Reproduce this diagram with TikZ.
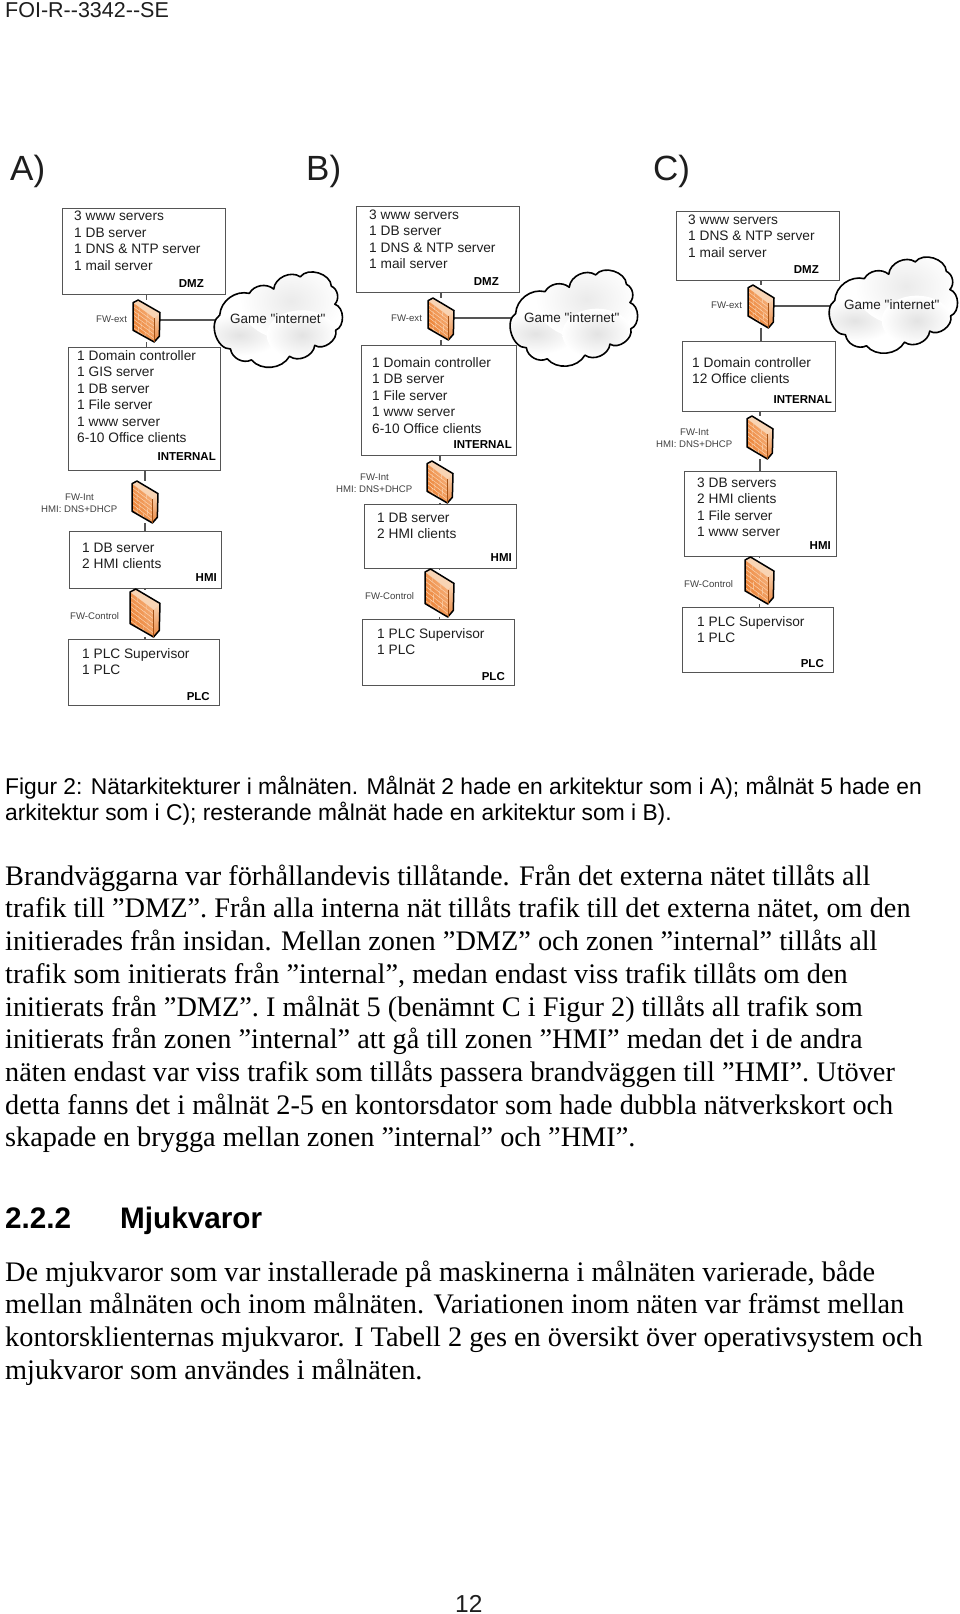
\documentclass[tikz,border=0pt]{standalone}
\usepackage{fontspec}
\usetikzlibrary{backgrounds,shadings}
\setmainfont{Liberation Serif}
\newfontfamily\arial{Liberation Sans}
\definecolor{boxline}{HTML}{555555}
\definecolor{ink}{HTML}{1E1E1E}
\definecolor{fwdark}{HTML}{E8731F}
\definecolor{fwlight}{HTML}{F8BC8C}
\definecolor{fwside}{HTML}{F8D4B4}
\definecolor{fwbrick}{HTML}{FBD5B4}
\tikzset{
  x=1pt,y=-1pt,
  zone/.style={draw=boxline,line width=1.1pt,fill=white,inner sep=0pt,anchor=north west},
  conn/.style={draw=boxline,line width=1.1pt},
  boxtext/.style={inner sep=0pt,anchor=north west,align=left,text=ink,font=\arial\fontsize{13.7}{16.5}\selectfont},
  zonelabel/.style={inner sep=0pt,anchor=base east,text=black,font=\arial\bfseries\fontsize{11.5}{13}\selectfont},
  fwlabel/.style={inner sep=0pt,anchor=base west,text=ink!85,font=\arial\fontsize{9.6}{12}\selectfont},
  cloudlabel/.style={inner sep=0pt,anchor=base west,text=ink,font=\arial\fontsize{13.5}{16}\selectfont},
  panel/.style={inner sep=0pt,anchor=base west,text=ink,font=\arial\fontsize{35}{40}\selectfont},
  hdr/.style={inner sep=0pt,anchor=base west,text=ink,font=\arial\fontsize{21.5}{24}\selectfont},
  body/.style={inner sep=0pt,anchor=north west,align=left,text=black,font=\fontsize{28.3}{32.7}\selectfont},
  capt/.style={inner sep=0pt,anchor=north west,align=left,text=black,font=\arial\fontsize{22.8}{26.3}\selectfont},
  head/.style={inner sep=0pt,anchor=base west,text=black,font=\arial\bfseries\fontsize{29.7}{32}\selectfont},
  fwhole/.style={inner sep=0pt,outer sep=0pt,anchor=north west},
}
% name, left, top, right, bottom
\newcommand{\zonebox}[5]{\node[zone,minimum width={#4-#2},minimum height={#5-#3}] (#1) at (#2,#3) {};}
% name, x, first baseline, lines
\newcommand{\zonetext}[4]{\node[boxtext] (#1) at (#2,{#3-11}) {\rule{0pt}{11pt}#4};}
% name, left, top, width, height
\newcommand{\firewall}[5]{%
  \node[fwhole,minimum width=#4,minimum height=#5] (#1) at (#2,#3) {};
  \begin{scope}[shift={(#2,#3)},x=#4pt,y=-#5pt]
    \fill[fwside] (0,.064) -- (.19,0) -- (1,.30) -- (.785,.43) -- cycle;
    \shade[top color=fwside,bottom color=fwdark!85] (.785,.43) -- (1,.30) -- (.975,.864) -- (.785,1) -- cycle;
    \begin{scope}
      \clip (0,.064) -- (.785,.43) -- (.785,1) -- (0,.72) -- cycle;
      \shade[lower left=fwdark,upper right=fwlight,lower right=fwlight!55!fwdark,upper left=fwlight!50!fwdark] (0,0) rectangle (.785,1);
      \draw[fwbrick,line width=.45pt]
        (0,.15) -- (.785,.52) (0,.25) -- (.785,.62) (0,.35) -- (.785,.72)
        (0,.45) -- (.785,.82) (0,.55) -- (.785,.92) (0,.65) -- (.785,1.02)
        (.25,.1) -- (.25,.28) (.55,.25) -- (.55,.43) (.2,.32) -- (.2,.48) (.5,.45) -- (.5,.6)
        (.3,.53) -- (.3,.68) (.6,.66) -- (.6,.8) (.2,.65) -- (.2,.78) (.45,.78) -- (.45,.92);
    \end{scope}
    \draw[black,line width=1.5pt,line join=round] (0,.064) -- (.19,0) -- (1,.30) -- (.975,.864) -- (.785,1) -- (0,.72) -- cycle;
    \draw[fwdark!70!black,line width=.3pt] (.785,.43) -- (.785,1);
  \end{scope}}
% name, left, top, width, height
\newcommand{\gamecloud}[5]{%
  \node[fwhole,minimum width=#4,minimum height=#5] (#1) at (#2,#3) {};
  \begin{scope}[shift={(#2,#3)},x=#4pt,y=-#5pt]
    \def\cloudpath{(.072,.467) to[bend left=50] (.291,.256) to[bend left=50] (.472,.214) to[bend left=60] (.669,.095) to[bend left=70] (.899,.186) to[bend left=55] (.925,.361) to[bend left=70] (.931,.614) to[bend left=70] (.776,.761) to[bend left=60] (.589,.867) to[bend left=55] (.307,.902) to[bend left=55] (.152,.796) to[bend left=75] (.072,.467)}
    \fill[white] \cloudpath -- cycle;
    \begin{scope}
      \clip \cloudpath -- cycle;
      \shade[inner color=black!11,outer color=white] (.22,.66) ellipse (.3 and .2);
      \shade[inner color=black!8,outer color=white] (.6,.33) ellipse (.38 and .38);
      \shade[inner color=black!11,outer color=white] (.68,.66) ellipse (.26 and .24);
    \end{scope}
    \draw[black,line width=1.6pt,line join=round] \cloudpath -- cycle;
  \end{scope}}
\begin{document}
\begin{tikzpicture}
\begin{pgfonlayer}{background}
\fill[white] (0,0) rectangle (960,1614);
\end{pgfonlayer}
\useasboundingbox (0,0) rectangle (960,1614);

\node[hdr] (header) at (5,17) {FOI-R{-}{-}3342{-}{-}SE};
\node[panel] (pa) at (10,180) {A)};
\node[panel] (pb) at (306,180) {B)};
\node[panel] (pc) at (653,180) {C)};

% zones A
\zonebox{adz}{62}{208}{225}{294}
\zonebox{ain}{68}{347}{220}{470}
\zonebox{ahm}{69}{531}{221}{588}
\zonebox{apl}{68}{639}{219}{705}
% zones B
\zonebox{bdz}{356}{206}{519}{292}
\zonebox{bin}{361}{345}{516}{455}
\zonebox{bhm}{364}{504}{516}{568}
\zonebox{bpl}{362}{619}{514}{685}
% zones C
\zonebox{cdz}{676}{211}{839}{280}
\zonebox{cin}{682}{341}{835}{411}
\zonebox{chm}{684}{471}{836}{556}
\zonebox{cpl}{682}{607}{833}{672}

% firewalls and clouds
\firewall{fae}{133}{300}{27}{42}
\firewall{fai}{132}{481}{26}{42}
\firewall{fac}{130}{589}{30}{48}
\firewall{fbe}{428}{298}{26}{42}
\firewall{fbi}{427}{461}{26}{42}
\firewall{fbc}{425}{569}{29}{48}
\firewall{fce}{748}{285}{26}{43}
\firewall{fci}{747}{416}{26}{43}
\firewall{fcc}{745}{557}{29}{47}
\gamecloud{gca}{210}{267}{135}{103}
\gamecloud{gcb}{506}{265}{134}{104}
\gamecloud{gcc}{825}{252}{135}{104}
\coordinate (gaw) at (224,320);
\coordinate (gbw) at (520,318);
\coordinate (gcw) at (839,306);

\begin{pgfonlayer}{background}
\draw[conn] (fae |- adz.south) -- (fae.north) (fae.south) -- (fae |- ain.north);
\draw[conn] (fai |- ain.south) -- (fai.north) (fai.south) -- (fai |- ahm.north);
\draw[conn] (fac |- ahm.south) -- (fac.north) (fac.south) -- (fac |- apl.north);
\draw[conn] (fbe |- bdz.south) -- (fbe.north) (fbe.south) -- (fbe |- bin.north);
\draw[conn] (fbi |- bin.south) -- (fbi.north) (fbi.south) -- (fbi |- bhm.north);
\draw[conn] (fbc |- bhm.south) -- (fbc.north) (fbc.south) -- (fbc |- bpl.north);
\draw[conn] (fce |- cdz.south) -- (fce.north) (fce.south) -- (fce |- cin.north);
\draw[conn] (fci |- cin.south) -- (fci.north) (fci.south) -- (fci |- chm.north);
\draw[conn] (fcc |- chm.south) -- (fcc.north) (fcc.south) -- (fcc |- cpl.north);
\draw[conn] (fae.center |- gaw) -- (gaw);
\draw[conn] (fbe.center |- gbw) -- (gbw);
\draw[conn] (fce.center |- gcw) -- (gcw);
\end{pgfonlayer}

% zone texts A
\zonetext{tad}{74}{220.7}{3 www servers\\1 DB server\\1 DNS \& NTP server\\1 mail server}
\zonetext{tai}{77}{360}{1 Domain controller\\1 GIS server\\1 DB server\\1 File server\\1 www server\\6-10 Office clients}
\zonetext{tah}{82}{552}{1 DB server\\2 HMI clients}
\zonetext{tap}{82}{658}{1 PLC Supervisor\\1 PLC}
\node[zonelabel] (lad) at (204,287) {DMZ};
\node[zonelabel] (lai) at (216,460) {INTERNAL};
\node[zonelabel] (lah) at (217,581) {HMI};
\node[zonelabel] (lap) at (210,700) {PLC};
\node[fwlabel] (wae) at (96,322) {FW-ext};
\node[fwlabel] (wai) at (65,500) {FW-Int};
\node[fwlabel] (waj) at (41,512) {HMI: DNS+DHCP};
\node[fwlabel] (wac) at (70,619) {FW-Control};
\node[cloudlabel] (xa) at (230,323) {Game "internet"};

% zone texts B
\zonetext{tbd}{369}{219}{3 www servers\\1 DB server\\1 DNS \& NTP server\\1 mail server}
\zonetext{tbi}{372}{367}{1 Domain controller\\1 DB server\\1 File server\\1 www server\\6-10 Office clients}
\zonetext{tbh}{377}{522}{1 DB server\\2 HMI clients}
\zonetext{tbp}{377}{638}{1 PLC Supervisor\\1 PLC}
\node[zonelabel] (lbd) at (499,285) {DMZ};
\node[zonelabel] (lbi) at (512,448) {INTERNAL};
\node[zonelabel] (lbh) at (512,561) {HMI};
\node[zonelabel] (lbp) at (505,680) {PLC};
\node[fwlabel] (wbe) at (391,321) {FW-ext};
\node[fwlabel] (wbi) at (360,480) {FW-Int};
\node[fwlabel] (wbj) at (336,492) {HMI: DNS+DHCP};
\node[fwlabel] (wbc) at (365,599) {FW-Control};
\node[cloudlabel] (xb) at (524,322) {Game "internet"};

% zone texts C
\zonetext{tcd}{688}{224}{3 www servers\\1 DNS \& NTP server\\1 mail server}
\zonetext{tci}{692}{367}{1 Domain controller\\12 Office clients}
\zonetext{tch}{697}{487}{3 DB servers\\2 HMI clients\\1 File server\\1 www server}
\zonetext{tcp}{697}{626}{1 PLC Supervisor\\1 PLC}
\node[zonelabel] (lcd) at (819,273) {DMZ};
\node[zonelabel] (lci) at (832,403) {INTERNAL};
\node[zonelabel] (lch) at (831,549) {HMI};
\node[zonelabel] (lcp) at (824,667) {PLC};
\node[fwlabel] (wce) at (711,308) {FW-ext};
\node[fwlabel] (wci) at (680,435) {FW-Int};
\node[fwlabel] (wcj) at (656,447) {HMI: DNS+DHCP};
\node[fwlabel] (wcc) at (684,587) {FW-Control};
\node[cloudlabel] (xc) at (844,309) {Game "internet"};

% text of the page
\node[capt] (caption) at (5,{793-17}) {\rule{0pt}{17pt}Figur 2: Nätarkitekturer i målnäten. Målnät 2 hade en arkitektur som i A); målnät 5 hade en\\arkitektur som i C); resterande målnät hade en arkitektur som i B).};
\node[body] (para1) at (5,{885-21}) {\rule{0pt}{21pt}Brandväggarna var förhållandevis tillåtande. Från det externa nätet tillåts all\\
trafik till ”DMZ”. Från alla interna nät tillåts trafik till det externa nätet, om den\\
initierades från insidan. Mellan zonen ”DMZ” och zonen ”internal” tillåts all\\
trafik som initierats från ”internal”, medan endast viss trafik tillåts om den\\
initierats från ”DMZ”. I målnät 5 (benämnt C i Figur 2) tillåts all trafik som\\
initierats från zonen ”internal” att gå till zonen ”HMI” medan det i de andra\\
näten endast var viss trafik som tillåts passera brandväggen till ”HMI”. Utöver\\
detta fanns det i målnät 2-5 en kontorsdator som hade dubbla nätverkskort och\\
skapade en brygga mellan zonen ”internal” och ”HMI”.};
\node[head] (hnum) at (5,1228) {2.2.2};
\node[head] (htitle) at (120,1228) {Mjukvaror};
\node[body] (para2) at (5,{1281-21}) {\rule{0pt}{21pt}De mjukvaror som var installerade på maskinerna i målnäten varierade, både\\
mellan målnäten och inom målnäten. Variationen inom näten var främst mellan\\
kontorsklienternas mjukvaror. I Tabell 2 ges en översikt över operativsystem och\\
mjukvaror som användes i målnäten.};
\node[inner sep=0pt,anchor=base west,text=ink,font=\arial\fontsize{24.5}{28}\selectfont] (pageno) at (455,1612) {12};
\end{tikzpicture}
\end{document}
